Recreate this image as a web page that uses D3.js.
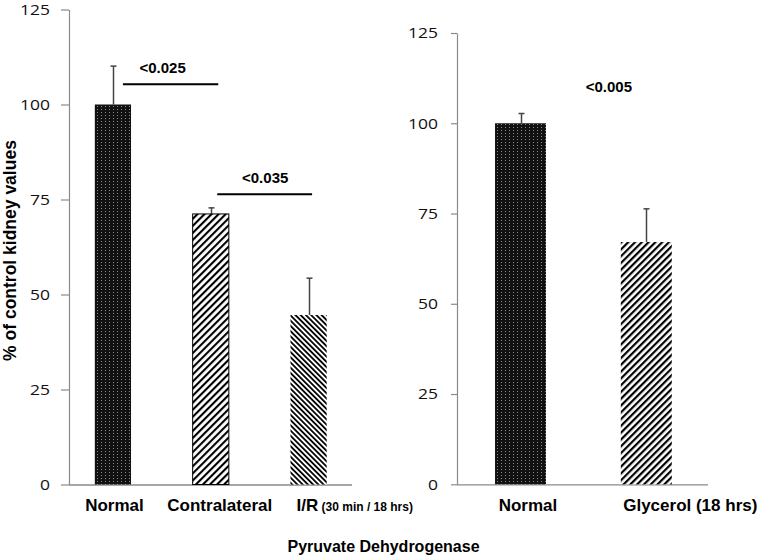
<!DOCTYPE html>
<html>
<head>
<meta charset="utf-8">
<script src="https://cdn.jsdelivr.net/npm/d3@7"></script>
<style>
  html, body { margin: 0; padding: 0; background: #fff; }
  svg { display: block; }
</style>
</head>
<body>
<svg id="chart" width="765" height="557"></svg>
<script>
// ---------------- data ----------------
const leftCategories = ["Normal", "Contralateral", "I/R"];
const leftValues = [100, 71.2, 44.6];
const leftErrors = [10.1, 1.6, 9.7];
const rightCategories = ["Normal", "Glycerol (18 hrs)"];
const rightValues = [100, 67.1];
const rightErrors = [2.7, 9.2];
const tickValues = [0, 25, 50, 75, 100, 125];
const leftSigLabels = ["<0.025", "<0.035"];
const leftSigLevels = [105.3, 76.4];
const rightSigLabels = ["<0.005"];
const rightSigLevels = [108.6];
const yTitle = "% of control kidney values";
const xTitle = "Pyruvate Dehydrogenase";

// ---------------- drawing ----------------
const svg = d3.select("#chart");
const defs = svg.append("defs");
const AXIS = "#8a8a8a";
const ERR = "#444";

// patterns
const dots = defs.append("pattern").attr("id", "dots")
  .attr("patternUnits", "userSpaceOnUse").attr("width", 4).attr("height", 3);
dots.append("rect").attr("width", 4).attr("height", 3).attr("fill", "#111");
dots.append("rect").attr("x", 1).attr("y", 1).attr("width", 1).attr("height", 1).attr("fill", "#8a8a8a");

function hatch(id, w, lw, angle) {
  const p = defs.append("pattern").attr("id", id)
    .attr("patternUnits", "userSpaceOnUse").attr("width", w).attr("height", w)
    .attr("patternTransform", `rotate(${angle})`);
  p.append("rect").attr("width", w).attr("height", w).attr("fill", "#fff");
  p.append("rect").attr("x", 0).attr("y", 0).attr("width", lw).attr("height", w).attr("fill", "#000");
}
hatch("fwd", 5, 2.1, 45);
hatch("bwd", 3.7, 1.8, -45);
hatch("fwd2", 4.8, 2.2, 45);

const leftFills = ["url(#dots)", "url(#fwd)", "url(#bwd)"];
const leftStroke = ["none", "#000", "none"];
const rightFills = ["url(#dots)", "url(#fwd2)"];

function panel(opts) {
  const g = svg.append("g");
  const y = d3.scaleLinear().domain([0, 125]).range(opts.yRange);
  const x = d3.scaleBand().domain(opts.cats).range(opts.xRange)
    .paddingInner(opts.pad).paddingOuter(opts.pad / 2);

  // y axis
  const ax = g.append("g").attr("transform", `translate(${opts.axisX},0)`)
    .call(d3.axisLeft(y).tickValues(tickValues).tickSize(opts.tickLen)
      .tickSizeOuter(0).tickPadding(opts.tickPad));
  ax.select(".domain").attr("stroke", AXIS).attr("stroke-width", 1.2);
  ax.selectAll(".tick line").attr("stroke", AXIS).attr("stroke-width", 1.2);
  ax.selectAll(".tick text").attr("font-family", "'Open Sans', sans-serif")
    .attr("font-size", 15).attr("fill", "#111")
    .attr("textLength", d => String(d).length * 10)
    .attr("lengthAdjust", "spacingAndGlyphs");

  // baseline
  g.append("line").attr("x1", opts.axisX).attr("x2", opts.baseEnd)
    .attr("y1", y(0) + 0.5).attr("y2", y(0) + 0.5)
    .attr("stroke", AXIS).attr("stroke-width", 1.3);

  // error bars (upward only)
  const eg = g.append("g");
  opts.cats.forEach((c, i) => {
    const cx = Math.round(x(c) + x.bandwidth() / 2) + 0.5;
    const top = y(opts.vals[i] + opts.errs[i]);
    eg.append("line").attr("x1", cx).attr("x2", cx)
      .attr("y1", y(opts.vals[i])).attr("y2", top)
      .attr("stroke", ERR).attr("stroke-width", 1.5);
    eg.append("line").attr("x1", cx - 3).attr("x2", cx + 3)
      .attr("y1", top).attr("y2", top)
      .attr("stroke", ERR).attr("stroke-width", 1.5);
  });

  // bars
  g.selectAll("rect.bar").data(opts.cats).join("rect").attr("class", "bar")
    .attr("x", d => x(d)).attr("width", x.bandwidth())
    .attr("y", (d, i) => y(opts.vals[i]))
    .attr("height", (d, i) => y(0) - y(opts.vals[i]))
    .attr("fill", (d, i) => opts.fills[i])
    .attr("stroke", (d, i) => opts.strokes[i]).attr("stroke-width", 1);

  return { g, x, y };
}

const L = panel({
  cats: leftCategories, vals: leftValues, errs: leftErrors,
  yRange: [484.5, 9.5], xRange: [64, 357.5], pad: 0.63,
  axisX: 69, baseEnd: 352, tickLen: 8, tickPad: 11,
  fills: leftFills, strokes: leftStroke
});
const R = panel({
  cats: rightCategories, vals: rightValues, errs: rightErrors,
  yRange: [484.3, 33], xRange: [457.6, 709.2], pad: 0.595,
  axisX: 457, baseEnd: 708, tickLen: 6, tickPad: 13,
  fills: rightFills, strokes: ["none", "none"]
});

const bold = "'Liberation Sans', Arial, sans-serif";

// category labels
const lc = c => L.x(c) + L.x.bandwidth() / 2;
const rc = c => R.x(c) + R.x.bandwidth() / 2;
const catY = 511;
svg.append("text").attr("x", lc("Normal") + 1.5).attr("y", catY)
  .attr("text-anchor", "middle").attr("font-family", bold).attr("font-weight", "bold")
  .attr("font-size", 17).text(leftCategories[0]);
svg.append("text").attr("x", lc("Contralateral") + 9).attr("y", catY)
  .attr("text-anchor", "middle").attr("font-family", bold).attr("font-weight", "bold")
  .attr("font-size", 17).text(leftCategories[1]);
const ir = svg.append("text").attr("x", L.x("I/R") + 6).attr("y", catY)
  .attr("font-family", bold).attr("font-weight", "bold").attr("font-size", 17);
ir.append("tspan").text(leftCategories[2]);
ir.append("tspan").attr("font-size", 12).text(" (30 min / 18 hrs)");
svg.append("text").attr("x", rc("Normal") + 7.5).attr("y", catY)
  .attr("text-anchor", "middle").attr("font-family", bold).attr("font-weight", "bold")
  .attr("font-size", 17).text(rightCategories[0]);
svg.append("text").attr("x", rc("Glycerol (18 hrs)") + 44).attr("y", catY)
  .attr("text-anchor", "middle").attr("font-family", bold).attr("font-weight", "bold")
  .attr("font-size", 17).text(rightCategories[1]);

// significance annotations
const sigPairs = [[0, 1], [1, 2]];
const sigOffsets = [[10, 7.5], [6.5, 3.5]];
sigPairs.forEach((pr, i) => {
  const x1 = lc(leftCategories[pr[0]]) + sigOffsets[i][0];
  const x2 = lc(leftCategories[pr[1]]) + sigOffsets[i][1];
  const ly = L.y(leftSigLevels[i]);
  svg.append("line").attr("x1", x1).attr("x2", x2).attr("y1", ly).attr("y2", ly)
    .attr("stroke", "#000").attr("stroke-width", 2);
  svg.append("text").attr("x", (x1 + x2) / 2 - 8 + i * 8.5).attr("y", ly - 11.5)
    .attr("text-anchor", "middle").attr("font-family", bold).attr("font-weight", "bold")
    .attr("font-size", 15).text(leftSigLabels[i]);
});
svg.append("text")
  .attr("x", (rc(rightCategories[0]) + rc(rightCategories[1])) / 2 + 25.5)
  .attr("y", R.y(rightSigLevels[0]))
  .attr("text-anchor", "middle").attr("font-family", bold).attr("font-weight", "bold")
  .attr("font-size", 15).text(rightSigLabels[0]);

// axis titles
svg.append("text").attr("transform", "translate(15.5,250.5) rotate(-90)")
  .attr("text-anchor", "middle").attr("font-family", bold).attr("font-weight", "bold")
  .attr("font-size", 17.5).text(yTitle);
svg.append("text").attr("x", 383.5).attr("y", 552)
  .attr("text-anchor", "middle").attr("font-family", bold).attr("font-weight", "bold")
  .attr("font-size", 16).text(xTitle);
</script>
</body>
</html>
